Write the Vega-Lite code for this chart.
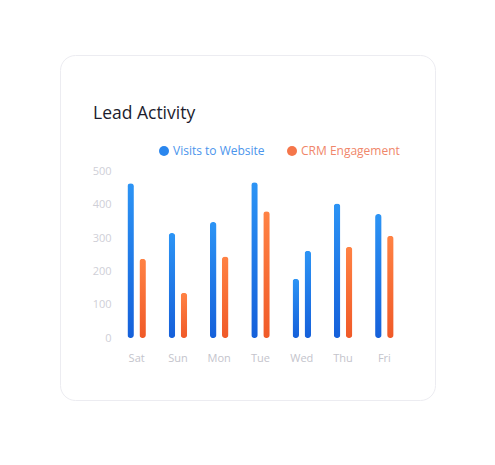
{
  "$schema": "https://vega.github.io/schema/vega-lite/v6.json",
  "description": "Lead Activity",
  "autosize": {"type": "none"},
  "padding": {"left": 60, "top": 55, "right": 60, "bottom": 65},
  "width": 375,
  "height": 345,
  "background": "#ffffff",
  "title": {
    "text": "Lead Activity",
    "anchor": "start",
    "frame": "group",
    "offset": 0,
    "dx": 33,
    "dy": 67,
    "font": "Open Sans",
    "fontSize": 17.5,
    "fontWeight": "normal",
    "color": "#1c1c2e"
  },
  "data": {
    "values": [
      {"day": "Sat", "series": "Visits to Website", "value": 465},
      {"day": "Sat", "series": "CRM Engagement", "value": 238},
      {"day": "Sun", "series": "Visits to Website", "value": 315},
      {"day": "Sun", "series": "CRM Engagement", "value": 136},
      {"day": "Mon", "series": "Visits to Website", "value": 348},
      {"day": "Mon", "series": "CRM Engagement", "value": 245},
      {"day": "Tue", "series": "Visits to Website", "value": 468},
      {"day": "Tue", "series": "CRM Engagement", "value": 381},
      {"day": "Wed", "series": "Visits to Website", "value": 178},
      {"day": "Wed", "series": "CRM Engagement", "value": 262},
      {"day": "Thu", "series": "Visits to Website", "value": 404},
      {"day": "Thu", "series": "CRM Engagement", "value": 274},
      {"day": "Fri", "series": "Visits to Website", "value": 372},
      {"day": "Fri", "series": "CRM Engagement", "value": 307}
    ]
  },
  "encoding": {
    "x": {
      "field": "day",
      "type": "nominal",
      "sort": ["Sat", "Sun", "Mon", "Tue", "Wed", "Thu", "Fri"],
      "scale": {"range": [56, 345], "paddingInner": 0, "paddingOuter": 0},
      "axis": {
        "title": null,
        "orient": "bottom",
        "offset": -48,
        "domain": false,
        "ticks": false,
        "tickSize": 0,
        "labelPadding": 0,
        "labelAngle": 0,
        "labelFont": "Open Sans",
        "labelFontSize": 11,
        "labelColor": "#c4c4cc",
        "grid": false
      }
    },
    "xOffset": {
      "field": "series",
      "type": "nominal",
      "scale": {
        "domain": ["Visits to Website", "CRM Engagement"],
        "paddingInner": 0.46,
        "paddingOuter": 0.95
      }
    },
    "y": {
      "field": "value",
      "type": "quantitative",
      "scale": {"domain": [0, 500], "range": [283, 116.5], "nice": false},
      "axis": {
        "title": null,
        "values": [0, 100, 200, 300, 400, 500],
        "offset": -51,
        "domain": false,
        "ticks": false,
        "tickSize": 0,
        "labelPadding": 0,
        "labelFont": "Open Sans",
        "labelFontSize": 11,
        "labelColor": "#cfcfd7",
        "grid": false
      }
    }
  },
  "layer": [
    {
      "mark": {"type": "bar", "opacity": 0, "cornerRadius": 3},
      "encoding": {
        "color": {
          "field": "series",
          "type": "nominal",
          "scale": {
            "domain": ["Visits to Website", "CRM Engagement"],
            "range": ["#2a86ee", "#f5764a"]
          },
          "legend": {
            "orient": "none",
            "legendX": 98,
            "legendY": 90,
            "direction": "horizontal",
            "title": null,
            "symbolType": "circle",
            "symbolSize": 100,
            "symbolOpacity": 1,
            "symbolStrokeWidth": 0,
            "labelFont": "Open Sans",
            "labelFontSize": 12,
            "labelOffset": 3,
            "columnPadding": 21,
            "padding": 0,
            "encode": {
              "labels": {
                "update": {
                  "fill": {"signal": "datum.value === 'CRM Engagement' ? '#f0866a' : '#4b95ec'"}
                }
              }
            }
          }
        }
      }
    },
    {
      "transform": [
        {"filter": "datum.series === 'Visits to Website' || datum.day === 'Wed'"}
      ],
      "mark": {
        "type": "bar",
        "cornerRadius": 3,
        "color": {
          "gradient": "linear",
          "x1": 0, "y1": 0, "x2": 0, "y2": 1,
          "stops": [
            {"offset": 0, "color": "#2c94f5"},
            {"offset": 1, "color": "#1560da"}
          ]
        }
      }
    },
    {
      "transform": [
        {"filter": "datum.series === 'CRM Engagement' && datum.day !== 'Wed'"}
      ],
      "mark": {
        "type": "bar",
        "cornerRadius": 3,
        "color": {
          "gradient": "linear",
          "x1": 0, "y1": 0, "x2": 0, "y2": 1,
          "stops": [
            {"offset": 0, "color": "#ff8244"},
            {"offset": 1, "color": "#f05a28"}
          ]
        }
      }
    }
  ],
  "config": {
    "view": {"fill": "#ffffff", "stroke": "#ececf1", "cornerRadius": 15}
  }
}
